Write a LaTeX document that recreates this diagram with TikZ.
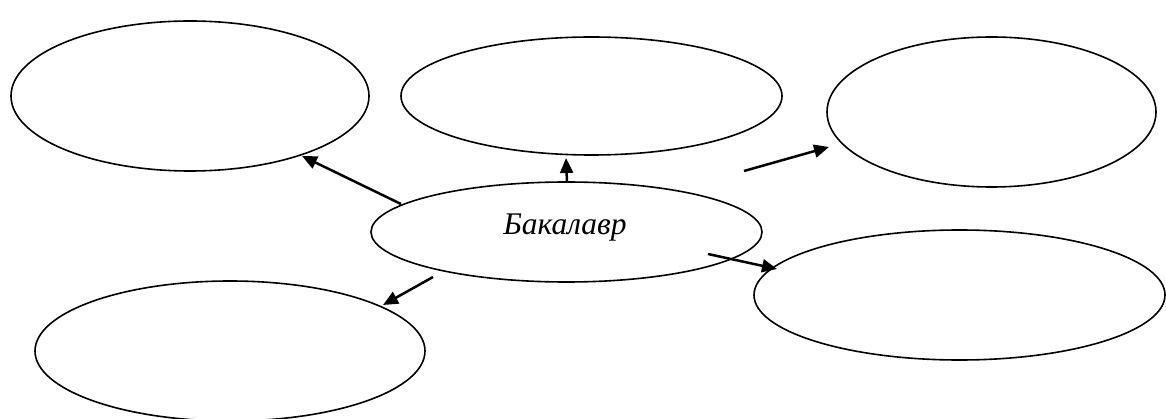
\documentclass[tikz,border=0pt]{standalone}
\usepackage{fontspec}
\setmainfont{Liberation Serif}
\usetikzlibrary{shapes.geometric,arrows.meta}
\begin{document}
\begin{tikzpicture}[x=1pt,y=-1pt,
  oval/.style={draw=black,line width=1.6pt,ellipse,inner sep=0pt,fill=none},
  arr/.style={line width=2.5pt,-{Triangle[length=15pt,width=13pt]}}]
\useasboundingbox (0,0) rectangle (1166,419);
\node[oval,minimum width=358pt,minimum height=150pt] (tl) at (190,96) {};
\node[oval,minimum width=381pt,minimum height=118pt] (tm) at (591.5,96) {};
\node[oval,minimum width=329pt,minimum height=150pt] (tr) at (991.5,112) {};
\node[oval,minimum width=391pt,minimum height=100pt] (c) at (566.5,232) {};
\node[oval,minimum width=411pt,minimum height=130pt] (br) at (959.5,295) {};
\node[oval,minimum width=390pt,minimum height=140pt] (bl) at (230,351) {};
\node[anchor=base,inner sep=0pt,font=\itshape\fontsize{31.5}{38}\selectfont] (lbl) at (565,235) {Бакалавр};
\coordinate (s1) at (401,204); \coordinate (e1) at (302,156);
\coordinate (s2) at (567,182); \coordinate (e2) at (566,158);
\coordinate (s3) at (744,171); \coordinate (e3) at (829,147);
\coordinate (s4) at (708,254); \coordinate (e4) at (777,269);
\coordinate (s5) at (433,277); \coordinate (e5) at (383,305);
\draw[arr] (s1) -- (e1);
\draw[arr] (s2) -- (e2);
\draw[arr] (s3) -- (e3);
\draw[arr] (s4) -- (e4);
\draw[arr] (s5) -- (e5);
\end{tikzpicture}
\end{document}
